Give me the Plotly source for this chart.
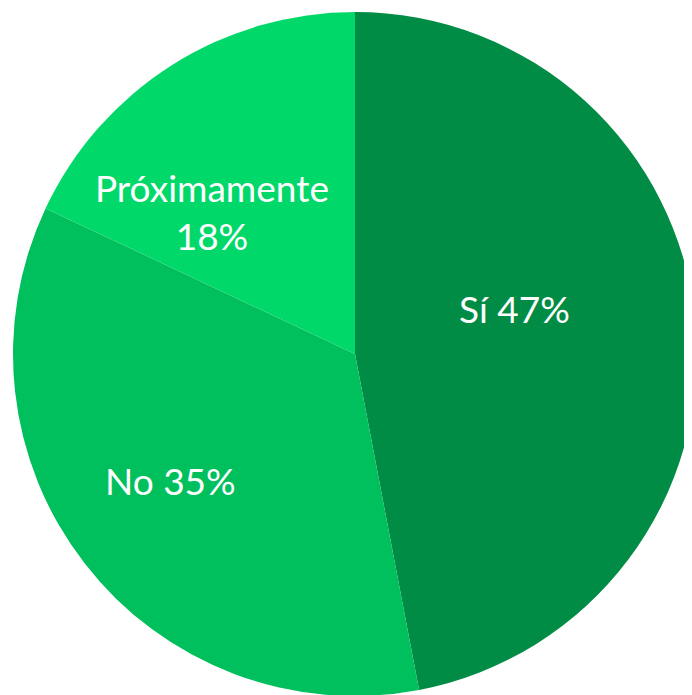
import math
import plotly.graph_objects as go

labels = ["Sí", "No", "Próximamente"]
values = [47, 35, 18]
texts = ["Sí 47%", "No 35%", "Próximamente<br>18%"]
colors = ["#008c44", "#00bf5d", "#00d96a"]

# label placement (fraction of radius, angle shift in degrees)
label_r = [0.484, 0.654, 0.59]
label_shift = [-10.7, 3.5, -12.6]

W, H = 692, 695
cx, cy, R = 347, 346, 342  # pie centre / radius in px (from top-left)

fig = go.Figure()
fig.add_trace(go.Pie(
    labels=labels,
    values=values,
    textinfo="none",
    sort=False,
    direction="clockwise",
    rotation=0,
    marker=dict(colors=colors, line=dict(width=0)),
    domain=dict(x=[(cx - R) / W, (cx + R) / W], y=[(H - cy - R) / H, (H - cy + R) / H]),
    showlegend=False,
    hoverinfo="label+percent",
))

total = sum(values)
start = 0
for v, t, fr, sh in zip(values, texts, label_r, label_shift):
    mid = (start + v / 2) / total * 360 + sh
    start += v
    px = cx + fr * R * math.sin(math.radians(mid))
    py = cy - fr * R * math.cos(math.radians(mid))
    fig.add_annotation(
        x=px / W, y=1 - py / H, xref="paper", yref="paper",
        xanchor="center", yanchor="middle",
        text=t, showarrow=False,
        font=dict(color="white", size=37, family="Lato, sans-serif"),
        align="center",
    )

fig.update_layout(
    width=W,
    height=H,
    margin=dict(l=0, r=0, t=0, b=0),
    paper_bgcolor="white",
    plot_bgcolor="white",
)

fig.write_html("out.html")
